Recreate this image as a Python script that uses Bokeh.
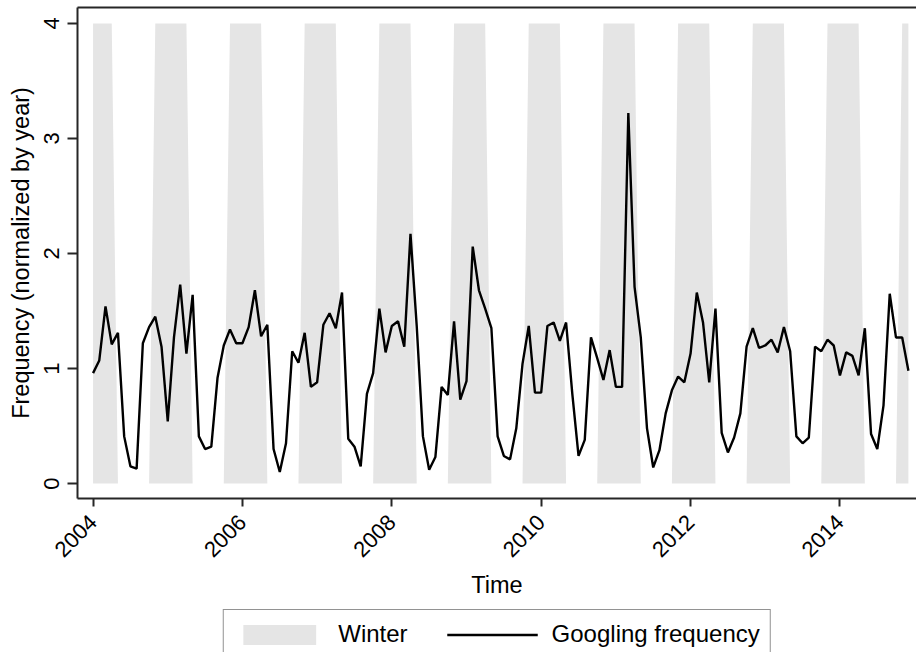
import math
import numpy as np
from bokeh.plotting import figure
from bokeh.layouts import column
from bokeh.models import (Range1d, LinearAxis, FixedTicker, Legend, LegendItem,
                          ColumnDataSource)
from bokeh.embed import file_html
from bokeh.resources import INLINE

# ---------------- data (monthly, Jan 2004 .. Dec 2014) ----------------
start_year = 2004
n_months = 132
year_ticks = [2004, 2006, 2008, 2010, 2012, 2014]
y_ticks = [0, 1, 2, 3, 4]

googling = [
    0.96, 1.07, 1.54, 1.21, 1.31, 0.41, 0.15, 0.13, 1.22, 1.36, 1.45, 1.19,   # 2004
    0.54, 1.27, 1.73, 1.13, 1.64, 0.41, 0.30, 0.32, 0.92, 1.20, 1.34, 1.22,   # 2005
    1.22, 1.36, 1.68, 1.28, 1.38, 0.30, 0.10, 0.35, 1.15, 1.05, 1.31, 0.84,   # 2006
    0.88, 1.38, 1.48, 1.35, 1.66, 0.39, 0.32, 0.15, 0.78, 0.96, 1.52, 1.14,   # 2007
    1.37, 1.41, 1.19, 2.17, 1.37, 0.41, 0.12, 0.23, 0.84, 0.77, 1.41, 0.73,   # 2008
    0.89, 2.06, 1.68, 1.52, 1.35, 0.41, 0.24, 0.21, 0.48, 1.04, 1.37, 0.79,   # 2009
    0.79, 1.37, 1.40, 1.24, 1.40, 0.78, 0.24, 0.38, 1.27, 1.09, 0.90, 1.16,   # 2010
    0.84, 0.84, 3.22, 1.71, 1.27, 0.48, 0.14, 0.29, 0.61, 0.81, 0.93, 0.88,   # 2011
    1.13, 1.66, 1.40, 0.88, 1.52, 0.44, 0.27, 0.40, 0.61, 1.19, 1.35, 1.18,   # 2012
    1.20, 1.25, 1.14, 1.36, 1.15, 0.41, 0.35, 0.40, 1.19, 1.15, 1.25, 1.20,   # 2013
    0.94, 1.14, 1.11, 0.94, 1.35, 0.43, 0.30, 0.68, 1.65, 1.27, 1.27, 0.98,   # 2014
]

winter = [
    4, 4, 4, 4, 0, 0, 0, 0, 0, 0, 4, 4,
    4, 4, 4, 4, 0, 0, 0, 0, 0, 0, 4, 4,
    4, 4, 4, 4, 0, 0, 0, 0, 0, 0, 4, 4,
    4, 4, 4, 4, 0, 0, 0, 0, 0, 0, 4, 4,
    4, 4, 4, 4, 0, 0, 0, 0, 0, 0, 4, 4,
    4, 4, 4, 4, 0, 0, 0, 0, 0, 0, 4, 4,
    4, 4, 4, 4, 0, 0, 0, 0, 0, 0, 4, 4,
    4, 4, 4, 4, 0, 0, 0, 0, 0, 0, 4, 4,
    4, 4, 4, 4, 0, 0, 0, 0, 0, 0, 4, 4,
    4, 4, 4, 4, 0, 0, 0, 0, 0, 0, 4, 4,
    4, 4, 4, 4, 0, 0, 0, 0, 0, 0, 4, 4,
]

time = start_year + np.arange(n_months) / 12.0
src = ColumnDataSource(dict(t=time, freq=googling, winter=winter))

FONT = "Liberation Sans"
AX = "#262626"
WINTER_FILL = "#e5e5e5"

x_range = Range1d(start_year - 2.5 / 12, start_year + 132.3 / 12)

p = figure(width=916, height=608, output_backend="svg", toolbar_location=None,
           x_range=x_range, y_range=Range1d(-0.13, 4.138),
           min_border_left=77, min_border_right=0, min_border_top=7,
           min_border_bottom=110)
p.outline_line_color = None
p.background_fill_color = "white"
p.border_fill_color = "white"
p.xgrid.visible = False
p.ygrid.visible = False

p.varea(x="t", y1=0, y2="winter", source=src, fill_color=WINTER_FILL)
p.line(x="t", y="freq", source=src, line_color="black", line_width=2.4)

# x axis
xa = p.xaxis[0]
xa.ticker = FixedTicker(ticks=year_ticks)
xa.minor_tick_line_color = None
xa.major_tick_in = 0
xa.major_tick_out = 8
xa.major_tick_line_color = AX
xa.major_tick_line_width = 2
xa.axis_line_color = AX
xa.axis_line_width = 2
xa.major_label_orientation = math.pi / 4
xa.major_label_standoff = 12
xa.major_label_text_font = FONT
xa.major_label_text_font_size = "22px"
xa.major_label_text_color = "black"
xa.axis_label = "Time"
xa.axis_label_text_font = FONT
xa.axis_label_text_font_size = "23.5px"
xa.axis_label_text_font_style = "normal"
xa.axis_label_text_color = "black"
xa.axis_label_standoff = 5

# y axis
ya = p.yaxis[0]
ya.ticker = FixedTicker(ticks=y_ticks)
ya.minor_tick_line_color = None
ya.major_tick_in = 0
ya.major_tick_out = 10
ya.major_tick_line_color = AX
ya.major_tick_line_width = 2
ya.axis_line_color = AX
ya.axis_line_width = 2
ya.major_label_orientation = "vertical"
ya.major_label_standoff = 8
ya.major_label_text_font = FONT
ya.major_label_text_font_size = "22px"
ya.major_label_text_color = "black"
ya.axis_label = "Frequency (normalized by year)"
ya.axis_label_text_font = FONT
ya.axis_label_text_font_size = "23.5px"
ya.axis_label_text_font_style = "normal"
ya.axis_label_text_color = "black"
ya.axis_label_standoff = 8

# top frame line
top = LinearAxis(ticker=FixedTicker(ticks=[]), major_label_text_font_size="0px",
                 axis_line_color=AX, axis_line_width=2,
                 major_tick_line_color=None, minor_tick_line_color=None,
                 major_tick_out=0, major_label_standoff=0)
p.add_layout(top, "above")

# ---------------- legend strip below the chart ----------------
# same series drawn in a strip whose y-range lies outside the data, so only
# the legend (which takes its keys from these renderers) is visible
p2 = figure(width=916, height=44, output_backend="svg", toolbar_location=None,
            x_range=x_range, y_range=Range1d(10, 11),
            x_axis_location=None, y_axis_location=None,
            min_border_left=77, min_border_right=0, min_border_top=0,
            min_border_bottom=0)
p2.outline_line_color = None
p2.background_fill_color = "white"
p2.border_fill_color = "white"
p2.xgrid.visible = False
p2.ygrid.visible = False
area2 = p2.varea(x="t", y1=0, y2="winter", source=src, fill_color=WINTER_FILL)
line2 = p2.line(x="t", y="freq", source=src, line_color="black", line_width=2.4)

legend = Legend(items=[LegendItem(label="Winter", renderers=[area2]),
                       LegendItem(label="Googling frequency", renderers=[line2])],
                orientation="horizontal", location="top_center",
                glyph_width=91, glyph_height=25, label_standoff=14, spacing=39,
                padding=10, margin=1,
                label_text_font=FONT, label_text_font_size="24px",
                label_text_color="black",
                border_line_color=AX, border_line_width=1.5,
                background_fill_color="white", background_fill_alpha=1.0,
                inactive_fill_alpha=0.0)
p2.add_layout(legend)

layout = column(p, p2, spacing=0)
open("out.html", "w").write(file_html(layout, INLINE))
